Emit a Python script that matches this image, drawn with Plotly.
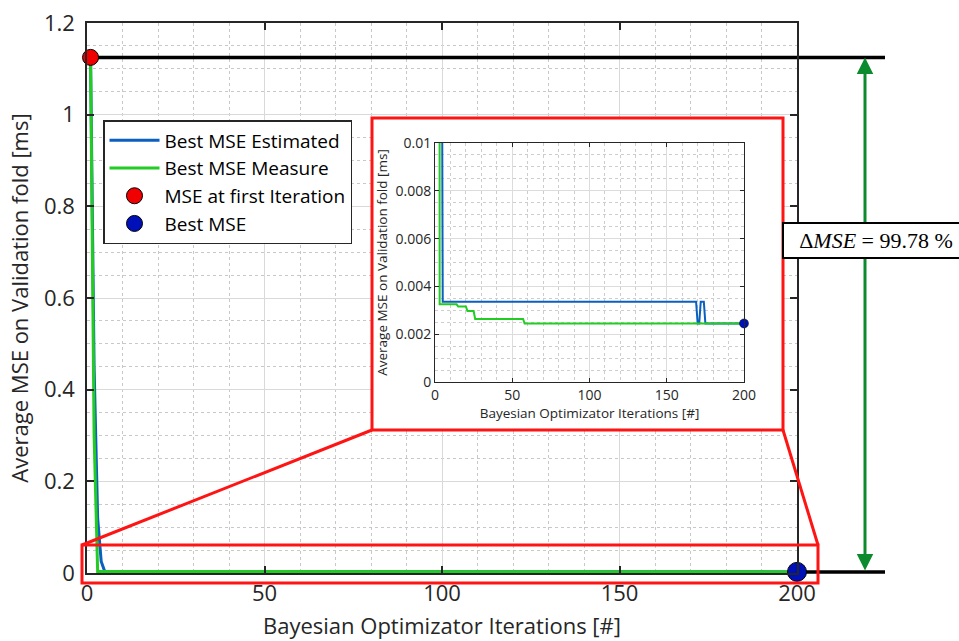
import plotly.graph_objects as go

# ---------------- data ----------------
iters_estimated = [1, 2, 3, 4, 5, 169, 170, 171, 172, 174, 175, 200]
mse_estimated = [1.125, 0.45, 0.12, 0.025, 0.00336, 0.00336, 0.00245, 0.00245,
                 0.00336, 0.00336, 0.00245, 0.00245]
iters_measured = [1, 2, 3, 14, 15, 20, 21, 25, 26, 57, 58, 200]
mse_measured = [1.125, 0.30, 0.00325, 0.00325, 0.00316, 0.00316, 0.00297, 0.00297,
                0.00264, 0.00264, 0.00245, 0.00245]
first_iter = [1]
first_mse = [1.125]
best_iter = [200]
best_mse = [0.00245]

main_xticks = [0, 50, 100, 150, 200]
main_yticks = [0, 0.2, 0.4, 0.6, 0.8, 1.0, 1.2]
inset_xticks = [0, 50, 100, 150, 200]
inset_yticks = [0, 0.002, 0.004, 0.006, 0.008, 0.01]

names = ["Best MSE Estimated", "Best MSE Measure", "MSE at first Iteration", "Best MSE"]

# ---------------- layout geometry ----------------
W, H = 959, 641
L, R, T, B = 87, 162, 23, 68
PW, PH = W - L - R, H - T - B
X_RANGE = [0, 200]
Y_RANGE = [0, 1.2]


def px_x(px):
    return (px - L) / PW


def px_y(py):
    return (H - B - py) / PH


def dx(px):
    return X_RANGE[0] + (px - L) / PW * (X_RANGE[1] - X_RANGE[0])


def dy(py):
    return Y_RANGE[0] + (H - B - py) / PH * (Y_RANGE[1] - Y_RANGE[0])


FONT = "Open Sans"
TXT = "#262626"
BLUE = "#0b5fbf"
GREEN = "#22cc22"
RED = "#ff1414"

fig = go.Figure()

# main axes traces
fig.add_trace(go.Scatter(x=iters_estimated, y=mse_estimated, mode="lines",
                         line=dict(color=BLUE, width=3), name=names[0]))
fig.add_trace(go.Scatter(x=iters_measured, y=mse_measured, mode="lines",
                         line=dict(color=GREEN, width=3), name=names[1]))
fig.add_trace(go.Scatter(x=first_iter, y=first_mse, mode="markers", cliponaxis=False,
                         marker=dict(size=16, color="#f00000", line=dict(color="black", width=1)),
                         name=names[2]))
fig.add_trace(go.Scatter(x=best_iter, y=best_mse, mode="markers", cliponaxis=False,
                         marker=dict(size=19, color="#0010b8", line=dict(color="black", width=1)),
                         name=names[3]))

# inset traces
fig.add_trace(go.Scatter(x=iters_estimated, y=mse_estimated, mode="lines", xaxis="x2", yaxis="y2",
                         line=dict(color=BLUE, width=2), showlegend=False))
fig.add_trace(go.Scatter(x=iters_measured, y=mse_measured, mode="lines", xaxis="x2", yaxis="y2",
                         line=dict(color=GREEN, width=2), showlegend=False))
fig.add_trace(go.Scatter(x=best_iter, y=best_mse, mode="markers", xaxis="x2", yaxis="y2",
                         cliponaxis=False,
                         marker=dict(size=9, color="#0010b8", line=dict(color="black", width=0.5)),
                         showlegend=False))

axis_common = dict(showline=True, linecolor=TXT, mirror="ticks", ticks="inside",
                   tickcolor=TXT, zeroline=False, showgrid=True, automargin=False)

fig.update_layout(
    width=W, height=H,
    margin=dict(l=L, r=R, t=T, b=B),
    paper_bgcolor="white", plot_bgcolor="white",
    font=dict(family=FONT, color=TXT),
    showlegend=True,
    legend=dict(x=px_x(103), y=px_y(120), xanchor="left", yanchor="top",
                bgcolor="white", bordercolor=TXT, borderwidth=1.5, itemwidth=50,
                font=dict(size=19, family=FONT, color="black"), tracegroupgap=0),
    xaxis=dict(domain=[0, 1], range=X_RANGE, tickvals=main_xticks, linewidth=1.5,
               ticklen=7, tickwidth=1.5, gridcolor="#d9d9d9", gridwidth=1,
               tickfont=dict(size=22, family=FONT, color=TXT),
               minor=dict(dtick=10, tick0=0, showgrid=True, gridcolor="#c8c8c8",
                          griddash="dot", gridwidth=1),
               title=dict(text="Bayesian Optimizator Iterations [#]",
                          font=dict(size=22, family=FONT, color=TXT), standoff=12),
               **axis_common),
    yaxis=dict(domain=[0, 1], range=Y_RANGE, tickvals=main_yticks, linewidth=1.5,
               ticklen=7, tickwidth=1.5, gridcolor="#d9d9d9", gridwidth=1,
               tickfont=dict(size=22, family=FONT, color=TXT), ticklabelstandoff=6,
               minor=dict(dtick=0.05, tick0=0, showgrid=True, gridcolor="#c8c8c8",
                          griddash="dot", gridwidth=1),
               title=dict(text="Average MSE on Validation fold [ms]",
                          font=dict(size=22, family=FONT, color=TXT), standoff=9),
               **axis_common),
    xaxis2=dict(domain=[px_x(435), px_x(744)], anchor="y2", range=X_RANGE,
                tickvals=inset_xticks, linewidth=1, ticklen=4, tickwidth=1,
                gridcolor="#dcdcdc", gridwidth=1,
                tickfont=dict(size=14, family=FONT, color=TXT),
                minor=dict(dtick=10, tick0=0, showgrid=True, gridcolor="#cdcdcd",
                           griddash="dot", gridwidth=1),
                title=dict(text="Bayesian Optimizator Iterations [#]",
                           font=dict(size=13.5, family=FONT, color=TXT), standoff=5),
                **axis_common),
    yaxis2=dict(domain=[px_y(382), px_y(143)], anchor="x2", range=[0, 0.01],
                tickvals=inset_yticks, linewidth=1, ticklen=4, tickwidth=1,
                gridcolor="#dcdcdc", gridwidth=1,
                tickfont=dict(size=14, family=FONT, color=TXT),
                minor=dict(dtick=0.0005, tick0=0, showgrid=True, gridcolor="#cdcdcd",
                           griddash="dot", gridwidth=1),
                title=dict(text="Average MSE on Validation fold [ms]",
                           font=dict(size=13.5, family=FONT, color=TXT), standoff=4),
                **axis_common),
)

shapes = []
# white background behind the inset (covers main grid)
shapes.append(dict(type="rect", xref="x", yref="y", layer="between",
                   x0=dx(372), x1=dx(783), y0=dy(430), y1=dy(118),
                   fillcolor="white", line=dict(width=0)))
# black reference lines (inside plot: above grid, below traces)
shapes.append(dict(type="line", xref="x", yref="y", layer="between",
                   x0=first_iter[0], x1=X_RANGE[1], y0=first_mse[0], y1=first_mse[0],
                   line=dict(color="black", width=3.5)))
shapes.append(dict(type="line", xref="paper", yref="paper", layer="below",
                   x0=1, x1=px_x(885), y0=first_mse[0] / Y_RANGE[1], y1=first_mse[0] / Y_RANGE[1],
                   line=dict(color="black", width=3.5)))
shapes.append(dict(type="line", xref="paper", yref="paper", layer="below",
                   x0=1, x1=px_x(885), y0=best_mse[0] / Y_RANGE[1], y1=best_mse[0] / Y_RANGE[1],
                   line=dict(color="black", width=3.5)))
# red zoom frames and connectors
red_line = dict(color=RED, width=3)
shapes.append(dict(type="rect", xref="paper", yref="paper", layer="above",
                   x0=px_x(372), x1=px_x(783), y0=px_y(430), y1=px_y(118), line=red_line))
shapes.append(dict(type="rect", xref="paper", yref="paper", layer="above",
                   x0=px_x(82), x1=px_x(818), y0=px_y(583), y1=px_y(545), line=red_line))
shapes.append(dict(type="line", xref="paper", yref="paper", layer="above",
                   x0=px_x(372), y0=px_y(430), x1=px_x(82), y1=px_y(545), line=red_line))
shapes.append(dict(type="line", xref="paper", yref="paper", layer="above",
                   x0=px_x(783), y0=px_y(430), x1=px_x(818), y1=px_y(545), line=red_line))
fig.update_layout(shapes=shapes)

delta_pct = (first_mse[0] - best_mse[0]) / first_mse[0] * 100

fig.add_annotation(xref="paper", yref="y", axref="pixel", ayref="y",
                   x=px_x(865), y=first_mse[0], ax=0, ay=best_mse[0],
                   showarrow=True, arrowside="end+start", arrowhead=2, arrowsize=1.1,
                   arrowwidth=3, arrowcolor="#0b8a2e", standoff=0, startstandoff=0, text="")
fig.add_annotation(xref="paper", yref="paper", x=px_x(782), y=px_y(240),
                   xanchor="left", yanchor="middle", showarrow=False,
                   text="Δ<i>MSE</i> = %.2f %%" % delta_pct,
                   font=dict(family="Liberation Serif", size=22, color="black"),
                   bgcolor="white", bordercolor="black", borderwidth=2, borderpad=4,
                   width=176, height=25, align="center")

fig.write_html("out.html")
